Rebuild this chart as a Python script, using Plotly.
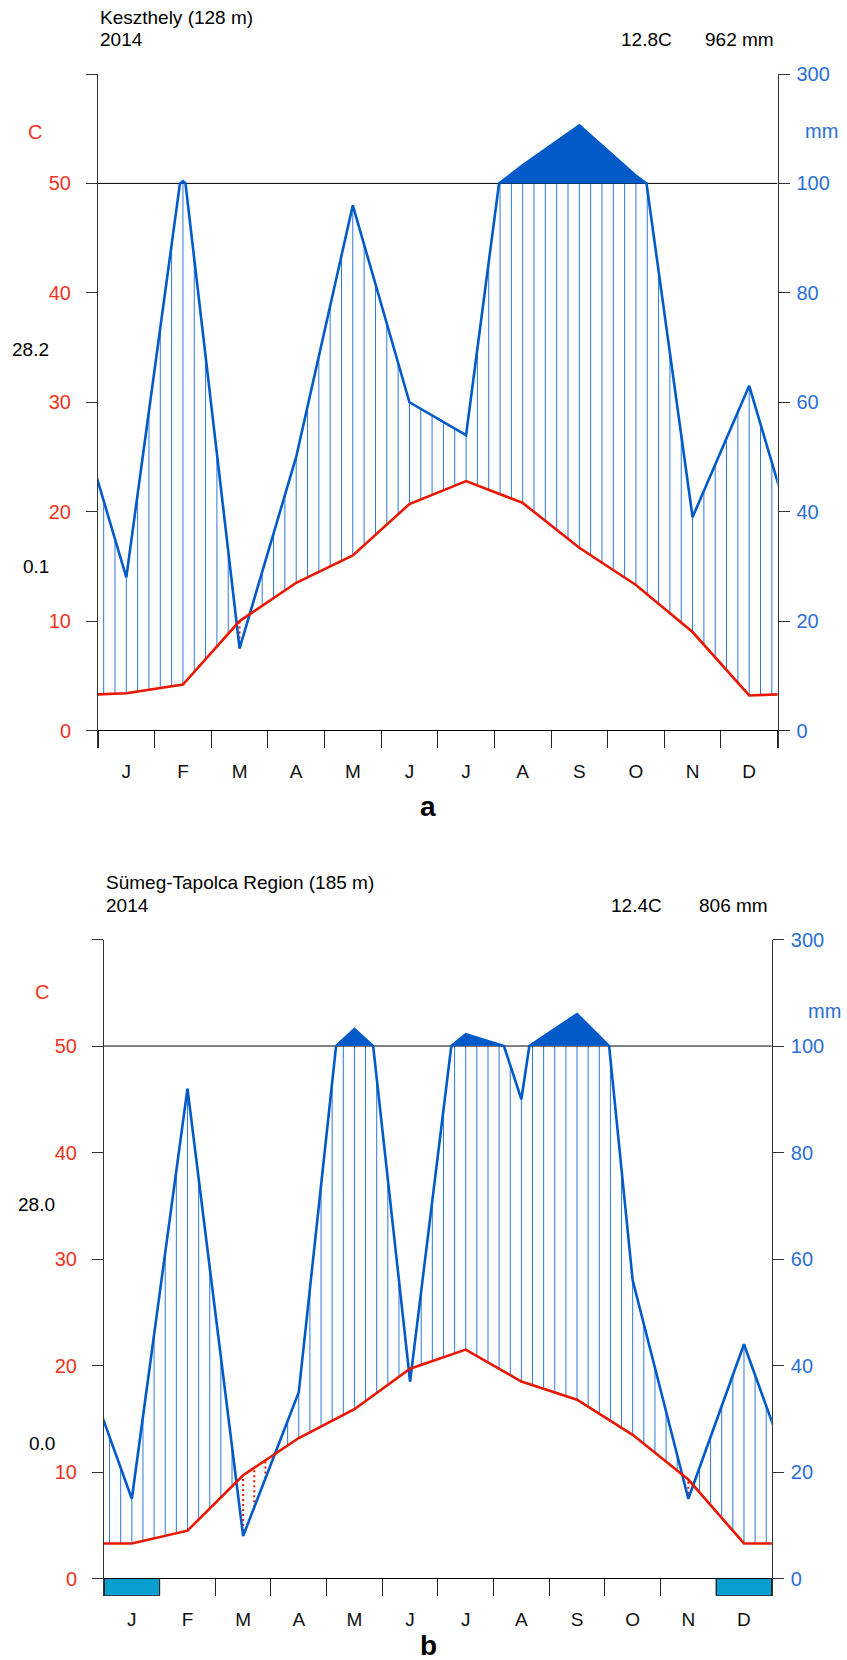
import numpy as np
import plotly.graph_objects as go

W, H = 847, 1660
FONT = "Liberation Sans, Arial, sans-serif"
PCOL = "#005ac8"
TCOL = "#e81800"
HATCH = "#2f78d6"
FROST = "#09a0d1"

months = ['J', 'F', 'M', 'A', 'M', 'J', 'J', 'A', 'S', 'O', 'N', 'D']

# ---- Panel a : Keszthely ----
station_a = "Keszthely (128 m)"
period_a = "2014"
temp_a = [3.4, 4.2, 10.0, 13.5, 16.0, 20.7, 22.8, 20.8, 16.7, 13.3, 9.0, 3.2]
prec_a = [28, 104, 15, 50, 96, 60, 54, 133, 206, 114, 39, 63]
tmax_a = "28.2"
tmin_a = "0.1"
frost_a = []

# ---- Panel b : Sümeg-Tapolca Region ----
station_b = "Sümeg-Tapolca Region (185 m)"
period_b = "2014"
temp_b = [3.3, 4.5, 9.7, 13.2, 15.9, 19.7, 21.5, 18.5, 16.8, 13.5, 9.3, 3.3]
prec_b = [15, 92, 8, 35, 132, 37, 122, 90, 160, 56, 15, 44]
tmax_b = "28.0"
tmin_b = "0.0"
frost_b = [1, 12]

# temperature axis ticks and precipitation axis labels
c_ticks = [0, 10, 20, 30, 40, 50, 60]
c_labels = ['0', '10', '20', '30', '40', '50', '']
mm_labels = ['0', '20', '40', '60', '80', '100', '300']
YMIN = -1.6
HUMID_LIMIT = 100  # mm, scale changes above


def to_c(p):
    p = np.asarray(p, dtype=float)
    return np.where(p <= HUMID_LIMIT, p / 2.0, 50 + (p - HUMID_LIMIT) / 20.0)


def extend(v):
    return [v[-1]] + list(v) + [v[0]]


XE = np.arange(-0.5, 12.51, 1.0)


def with_crossings(x, p, level=HUMID_LIMIT):
    xs, ps = [x[0]], [p[0]]
    for i in range(len(x) - 1):
        p0, p1 = p[i], p[i + 1]
        if (p0 - level) * (p1 - level) < 0:
            f = (level - p0) / (p1 - p0)
            xs.append(x[i] + f * (x[i + 1] - x[i]))
            ps.append(level)
        xs.append(x[i + 1])
        ps.append(p1)
    return np.array(xs), np.array(ps)


def panel_traces(temp, prec, frost, xa, ya, ya2):
    tr = []
    te = np.array(extend(temp), dtype=float)
    pe = np.array(extend(prec), dtype=float)
    xh = 0.1 + 0.2 * np.arange(60)
    th = np.interp(xh, XE, te)
    ph = np.interp(xh, XE, pe) / 2.0
    hx, hy, dx, dy = [], [], [], []
    for x, t, p in zip(xh, th, ph):
        if p > t:
            hx += [x, x, None]
            hy += [t, min(p, 50), None]
        elif p < t:
            dx += [x, x, None]
            dy += [p, t, None]
    tr.append(go.Scatter(x=hx, y=hy, mode='lines', xaxis=xa, yaxis=ya,
                         line=dict(color=HATCH, width=1), hoverinfo='skip'))
    tr.append(go.Scatter(x=dx, y=dy, mode='lines', xaxis=xa, yaxis=ya,
                         line=dict(color=TCOL, width=2, dash='2px,3px'), hoverinfo='skip'))
    # 100 mm reference line
    tr.append(go.Scatter(x=[0, 12], y=[50, 50], mode='lines', xaxis=xa, yaxis=ya,
                         line=dict(color='black', width=1), hoverinfo='skip'))
    # frost months
    if frost:
        tr.append(go.Bar(x=[m - 0.5 for m in frost], y=[-YMIN] * len(frost), base=YMIN,
                         width=1, xaxis=xa, yaxis=ya,
                         marker=dict(color=FROST, line=dict(color='black', width=1))))
    # very humid fill
    xs, ps = with_crossings(XE, pe)
    yc = np.maximum(to_c(ps), 50)
    tr.append(go.Scatter(x=list(xs) + [xs[-1], xs[0]], y=list(yc) + [50, 50],
                         mode='lines', fill='toself', fillcolor=PCOL,
                         line=dict(width=0, color=PCOL), xaxis=xa, yaxis=ya2, hoverinfo='skip'))
    tr.append(go.Scatter(x=xs, y=to_c(ps), mode='lines', xaxis=xa, yaxis=ya2,
                         line=dict(color=PCOL, width=2.6), hoverinfo='skip'))
    tr.append(go.Scatter(x=XE, y=te, mode='lines', xaxis=xa, yaxis=ya2,
                         line=dict(color=TCOL, width=2.6), hoverinfo='skip'))
    return tr


fig = go.Figure()
for t in panel_traces(temp_a, prec_a, frost_a, 'x', 'y', 'y2'):
    fig.add_trace(t)
for t in panel_traces(temp_b, prec_b, frost_b, 'x2', 'y3', 'y4'):
    fig.add_trace(t)


def ydom(y0px, y60px):
    per = (y0px - y60px) / 60.0
    bottom = y0px - YMIN * per
    return [1 - bottom / H, 1 - y60px / H]


def xax(x0px, x1px, anchor, standoff):
    return dict(domain=[x0px / W, x1px / W], range=[0, 12], anchor=anchor, automargin=False,
                showline=False, showgrid=False, zeroline=False,
                tickmode='array', tickvals=[i + 0.5 for i in range(12)], ticktext=months,
                ticks='', tickfont=dict(family=FONT, size=19, color='#111'),
                ticklabelstandoff=standoff,
                minor=dict(tickmode='array', tickvals=list(range(13)), ticks='inside',
                           ticklen=17, tickcolor='#222', tickwidth=1, showgrid=False))


def yleft(dom, anchor):
    return dict(domain=dom, range=[YMIN, 60], anchor=anchor, showline=True, automargin=False,
                linecolor='#333', linewidth=1, showgrid=False,
                zeroline=True, zerolinecolor='black', zerolinewidth=1,
                tickmode='array', tickvals=c_ticks, ticktext=c_labels,
                ticks='outside', ticklen=11, tickcolor='#333',
                tickfont=dict(family=FONT, size=20, color='#f2331f'), ticklabelstandoff=11)


def yright(over, anchor):
    return dict(overlaying=over, side='right', range=[YMIN, 60], anchor=anchor, automargin=False,
                showline=True, linecolor='#333', linewidth=1, showgrid=False, zeroline=False,
                tickmode='array', tickvals=c_ticks, ticktext=mm_labels,
                ticks='outside', ticklen=11, tickcolor='#333',
                tickfont=dict(family=FONT, size=20, color='#2b6fd6'), ticklabelstandoff=3)


def px(x):
    return x / W


def py(y):
    return 1 - y / H


ann = []


def text(x, y, s, anchor='center', color='black', size=19, bold=False):
    ann.append(dict(x=px(x), y=py(y), xref='paper', yref='paper',
                    text=f"<b>{s}</b>" if bold else s, showarrow=False,
                    xanchor=anchor, yanchor='middle',
                    font=dict(family=FONT, size=size, color=color)))


def header(x0, ytop, station, period, temp, prec, tmax, tmin, c_xy, mm_xy, tmax_y, tmin_xy,
           xmean, xsum):
    text(x0, ytop - 57, station, 'left')
    text(x0, ytop - 34, period, 'left')
    text(xmean, ytop - 34, f"{np.mean(temp):.1f}C", 'right')
    text(xsum, ytop - 34, f"{round(sum(prec))} mm", 'right')
    text(c_xy[0], c_xy[1], "C", color='#f2331f', size=20)
    text(mm_xy[0], mm_xy[1], "mm", color='#2b6fd6', size=20)
    text(tmax_y[0], tmax_y[1], tmax)
    text(tmin_xy[0], tmin_xy[1], tmin)


header(98, 74, station_a, period_a, temp_a, prec_a, tmax_a, tmin_a,
       (35, 132), (821, 131), (31, 349), (36, 567), 674, 776)
header(104, 939.5, station_b, period_b, temp_b, prec_b, tmax_b, tmin_b,
       (42, 992), (824, 1011), (36, 1204), (42, 1443), 664, 770)

text(428, 807, 'a', size=28, bold=True)
text(428, 1645, 'b', size=28, bold=True)

fig.update_layout(
    template='none',
    width=W, height=H, margin=dict(l=0, r=0, t=0, b=0, pad=0, autoexpand=False),
    paper_bgcolor='white', plot_bgcolor='white', showlegend=False,
    xaxis=xax(98, 777.5, 'y', 10),
    yaxis=yleft(ydom(730.5, 74), 'x'),
    yaxis2=yright('y', 'x'),
    xaxis2=xax(104, 771.8, 'y3', 10),
    yaxis3=yleft(ydom(1578.6, 939.5), 'x2'),
    yaxis4=yright('y3', 'x2'),
    annotations=ann,
)

fig.write_html("out.html", config={'displayModeBar': False},
               post_script="document.body.style.margin='0';")
